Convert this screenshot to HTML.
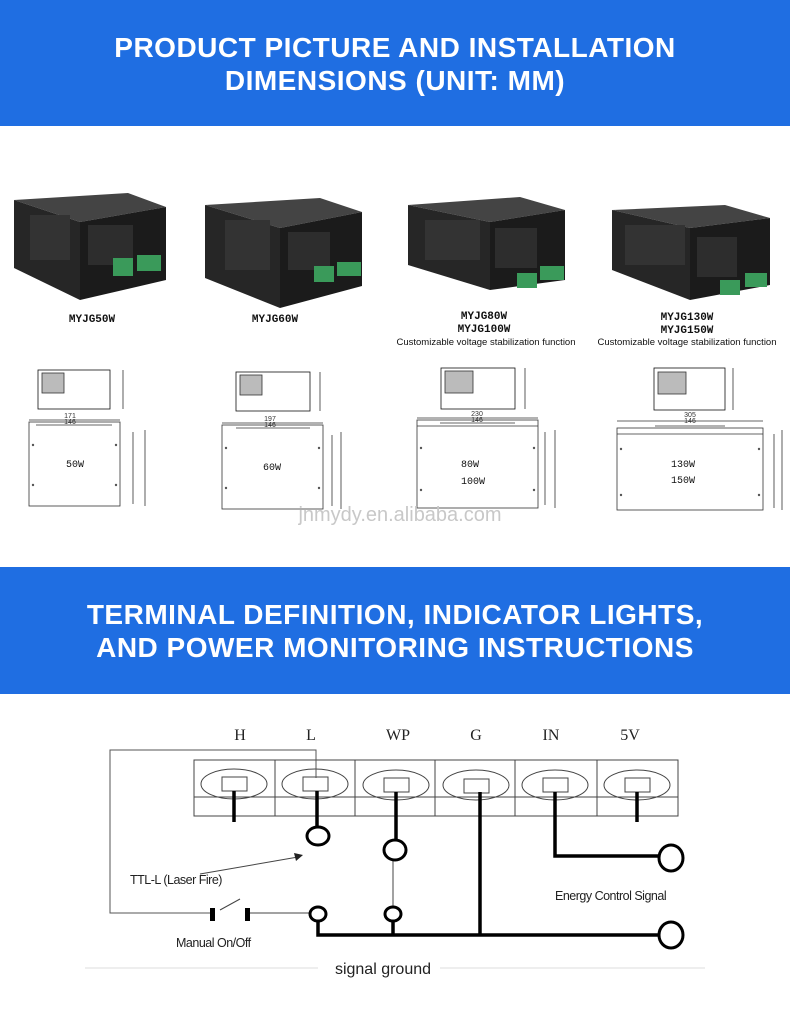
<!DOCTYPE html>
<html><head><meta charset="utf-8"><style>
html,body{margin:0;padding:0;background:#fff;width:790px;height:1027px;overflow:hidden}
svg{display:block}
.h{font-family:"Liberation Sans",Arial,sans-serif;font-weight:bold;fill:#fff;font-size:28px;text-anchor:middle;letter-spacing:0.5px}
.m{font-family:"Liberation Mono",monospace;font-weight:bold;font-size:11px;fill:#111;text-anchor:middle}
.c{font-family:"Liberation Sans",sans-serif;font-size:9.5px;fill:#111;text-anchor:middle}
.d{font-family:"Liberation Sans",sans-serif;font-size:7px;fill:#333;text-anchor:middle}
.w{font-family:"Liberation Mono",monospace;font-size:10px;fill:#111;text-anchor:middle}
.t{font-family:"Liberation Serif",serif;font-size:16px;fill:#222;text-anchor:middle}
.s{font-family:"Liberation Sans",sans-serif;font-size:12.5px;fill:#222;letter-spacing:-0.5px}
</style></head><body>
<svg width="790" height="1027" viewBox="0 0 790 1027" xmlns="http://www.w3.org/2000/svg">
<rect x="0" y="0" width="790" height="126" fill="#1f6ee2"/>
<text class="h" x="395" y="57">PRODUCT PICTURE AND INSTALLATION</text>
<text class="h" x="395" y="90">DIMENSIONS (UNIT: MM)</text>
<rect x="0" y="567" width="790" height="127" fill="#1f6ee2"/>
<text class="h" x="395" y="624">TERMINAL DEFINITION, INDICATOR LIGHTS,</text>
<text class="h" x="395" y="657"> AND POWER MONITORING INSTRUCTIONS</text>

<g>
<polygon points="14,200 128,193 166,207 80,222" fill="#444"/>
<polygon points="14,200 80,222 80,300 14,268" fill="#262626"/>
<polygon points="80,222 166,207 166,280 80,300" fill="#1b1b1b"/>
<rect x="30" y="215" width="40" height="45" fill="#333"/>
<rect x="88" y="225" width="45" height="40" fill="#2d2d2d"/>
<rect x="113" y="258" width="20" height="18" fill="#3a9a5a"/><rect x="137" y="255" width="24" height="16" fill="#3a9a5a"/>
</g>
<g>
<polygon points="205,205 320,198 362,212 280,228" fill="#444"/>
<polygon points="205,205 280,228 280,308 205,278" fill="#262626"/>
<polygon points="280,228 362,212 362,286 280,308" fill="#1b1b1b"/>
<rect x="225" y="220" width="45" height="50" fill="#333"/>
<rect x="288" y="232" width="42" height="38" fill="#2d2d2d"/>
<rect x="314" y="266" width="20" height="16" fill="#3a9a5a"/><rect x="337" y="262" width="24" height="14" fill="#3a9a5a"/>
</g>
<g>
<polygon points="408,205 520,197 565,210 490,222" fill="#444"/>
<polygon points="408,205 490,222 490,290 408,265" fill="#262626"/>
<polygon points="490,222 565,210 565,280 490,290" fill="#1b1b1b"/>
<rect x="425" y="220" width="55" height="40" fill="#333"/>
<rect x="495" y="228" width="42" height="40" fill="#2d2d2d"/>
<rect x="517" y="273" width="20" height="15" fill="#3a9a5a"/><rect x="540" y="266" width="24" height="14" fill="#3a9a5a"/>
</g>
<g>
<polygon points="612,210 725,205 770,218 690,228" fill="#444"/>
<polygon points="612,210 690,228 690,300 612,270" fill="#262626"/>
<polygon points="690,228 770,218 770,285 690,300" fill="#1b1b1b"/>
<rect x="625" y="225" width="60" height="40" fill="#333"/>
<rect x="697" y="237" width="40" height="40" fill="#2d2d2d"/>
<rect x="720" y="280" width="20" height="15" fill="#3a9a5a"/><rect x="745" y="273" width="22" height="14" fill="#3a9a5a"/>
</g>

<text class="m" x="92" y="322">MYJG50W</text>
<text class="m" x="275" y="322">MYJG60W</text>
<text class="m" x="484" y="319">MYJG80W</text>
<text class="m" x="484" y="332">MYJG100W</text>
<text class="c" x="486" y="345">Customizable voltage stabilization function</text>
<text class="m" x="687" y="320">MYJG130W</text>
<text class="m" x="687" y="333">MYJG150W</text>
<text class="c" x="687" y="345">Customizable voltage stabilization function</text>

<g fill="none" stroke="#333" stroke-width="0.8">
<rect x="38" y="370" width="72" height="39" stroke="#111"/><rect x="42" y="373" width="22" height="20" fill="#bbb"/>
<rect x="29" y="422" width="91" height="84"/>
<line x1="29" y1="420" x2="120" y2="420"/><line x1="36" y1="425" x2="112" y2="425"/>
<line x1="123" y1="370" x2="123" y2="409"/><line x1="133" y1="432" x2="133" y2="504"/><line x1="145" y1="430" x2="145" y2="506"/>
<rect x="236" y="372" width="74" height="39" stroke="#111"/><rect x="240" y="375" width="22" height="20" fill="#bbb"/>
<rect x="222" y="425" width="101" height="84"/>
<line x1="222" y1="423" x2="323" y2="423"/><line x1="236" y1="428" x2="310" y2="428"/>
<line x1="320" y1="372" x2="320" y2="411"/><line x1="332" y1="435" x2="332" y2="506"/><line x1="341" y1="432" x2="341" y2="509"/>
<rect x="441" y="368" width="74" height="41" stroke="#111"/><rect x="445" y="371" width="28" height="22" fill="#bbb"/>
<rect x="417" y="420" width="121" height="88"/><line x1="417" y1="426" x2="538" y2="426"/>
<line x1="417" y1="418" x2="538" y2="418"/><line x1="440" y1="423" x2="515" y2="423"/>
<line x1="525" y1="368" x2="525" y2="409"/><line x1="545" y1="432" x2="545" y2="505"/><line x1="555" y1="430" x2="555" y2="508"/>
<rect x="654" y="368" width="71" height="42" stroke="#111"/><rect x="658" y="372" width="28" height="22" fill="#bbb"/>
<rect x="617" y="428" width="146" height="82"/><line x1="617" y1="434" x2="763" y2="434"/>
<line x1="617" y1="421" x2="763" y2="421"/><line x1="655" y1="426" x2="725" y2="426"/>
<line x1="733" y1="368" x2="733" y2="410"/><line x1="774" y1="434" x2="774" y2="508"/><line x1="782" y1="430" x2="782" y2="510"/>
</g>
<g fill="#555">
<circle cx="33" cy="445" r="1.2"/><circle cx="116" cy="445" r="1.2"/><circle cx="33" cy="485" r="1.2"/><circle cx="116" cy="485" r="1.2"/>
<circle cx="226" cy="448" r="1.2"/><circle cx="319" cy="448" r="1.2"/><circle cx="226" cy="488" r="1.2"/><circle cx="319" cy="488" r="1.2"/>
<circle cx="421" cy="448" r="1.2"/><circle cx="534" cy="448" r="1.2"/><circle cx="421" cy="490" r="1.2"/><circle cx="534" cy="490" r="1.2"/>
<circle cx="621" cy="449" r="1.2"/><circle cx="759" cy="449" r="1.2"/><circle cx="621" cy="495" r="1.2"/><circle cx="759" cy="495" r="1.2"/>
</g>
<g class="d">
<text x="70" y="418">171</text><text x="70" y="424">146</text>
<text x="270" y="421">197</text><text x="270" y="427">146</text>
<text x="477" y="416">230</text><text x="477" y="422">146</text>
<text x="690" y="417">305</text><text x="690" y="423">146</text>
</g>
<text class="w" x="75" y="467">50W</text>
<text class="w" x="272" y="470">60W</text>
<text class="w" x="470" y="467">80W</text><text class="w" x="473" y="484">100W</text>
<text class="w" x="683" y="467">130W</text><text class="w" x="683" y="483">150W</text>
<text x="400" y="521" font-family="Liberation Sans,sans-serif" font-size="20" fill="#c8c8c8" text-anchor="middle">jnmydy.en.alibaba.com</text>

<g class="t"><text x="240" y="740">H</text><text x="311" y="740">L</text><text x="398" y="740">WP</text><text x="476" y="740">G</text><text x="551" y="740">IN</text><text x="630" y="740">5V</text></g>
<g fill="none" stroke="#444" stroke-width="1">
<rect x="194" y="760" width="484" height="56"/>
<line x1="194" y1="797" x2="678" y2="797"/>
<line x1="275" y1="760" x2="275" y2="816"/><line x1="355" y1="760" x2="355" y2="816"/><line x1="435" y1="760" x2="435" y2="816"/><line x1="515" y1="760" x2="515" y2="816"/><line x1="597" y1="760" x2="597" y2="816"/>
<ellipse cx="234" cy="784" rx="33" ry="15"/><ellipse cx="315" cy="784" rx="33" ry="15"/><ellipse cx="396" cy="785" rx="33" ry="15"/><ellipse cx="476" cy="785" rx="33" ry="15"/><ellipse cx="555" cy="785" rx="33" ry="15"/><ellipse cx="637" cy="785" rx="33" ry="15"/>
<rect x="222" y="777" width="25" height="14"/><rect x="303" y="777" width="25" height="14"/><rect x="384" y="778" width="25" height="14"/><rect x="464" y="779" width="25" height="14"/><rect x="543" y="778" width="25" height="14"/><rect x="625" y="778" width="25" height="14"/>
<polyline points="316,778 316,760 316,750 110,750 110,913 212,913" stroke="#555"/>
<line x1="248" y1="913" x2="312" y2="913"/>
<line x1="393" y1="860" x2="393" y2="907"/>
<line x1="220" y1="910" x2="240" y2="899"/>
<line x1="200" y1="874" x2="298" y2="857"/>
</g>
<polygon points="303,855 294,853 296,861" fill="#222"/>
<g stroke="#000" stroke-width="3.5" fill="none" stroke-linecap="butt">
<line x1="234" y1="791" x2="234" y2="822"/>
<line x1="317" y1="791" x2="317" y2="826"/>
<line x1="396" y1="792" x2="396" y2="840"/>
<line x1="480" y1="792" x2="480" y2="935"/>
<polyline points="555,792 555,856 660,856"/>
<line x1="637" y1="792" x2="637" y2="822"/>
<polyline points="318,922 318,935 660,935"/>
<line x1="393" y1="922" x2="393" y2="935"/>
</g>
<g stroke="#000" stroke-width="3" fill="#fff">
<ellipse cx="318" cy="836" rx="11" ry="9"/>
<ellipse cx="395" cy="850" rx="11" ry="10"/>
<ellipse cx="671" cy="858" rx="12" ry="13"/>
<ellipse cx="671" cy="935" rx="12" ry="13"/>
<ellipse cx="318" cy="914" rx="8" ry="7"/>
<ellipse cx="393" cy="914" rx="8" ry="7"/>
</g>
<rect x="210" y="908" width="5" height="13" fill="#000"/><rect x="245" y="908" width="5" height="13" fill="#000"/>
<text class="s" x="130" y="884">TTL-L (Laser Fire)</text>
<text class="s" x="176" y="947">Manual On/Off</text>
<text class="s" x="555" y="900">Energy Control Signal</text>
<line x1="85" y1="968" x2="318" y2="968" stroke="#ddd"/><line x1="440" y1="968" x2="705" y2="968" stroke="#ddd"/>
<text x="383" y="974" font-family="Liberation Sans,sans-serif" font-size="16" fill="#222" text-anchor="middle">signal ground</text>
</svg>
</body></html>
